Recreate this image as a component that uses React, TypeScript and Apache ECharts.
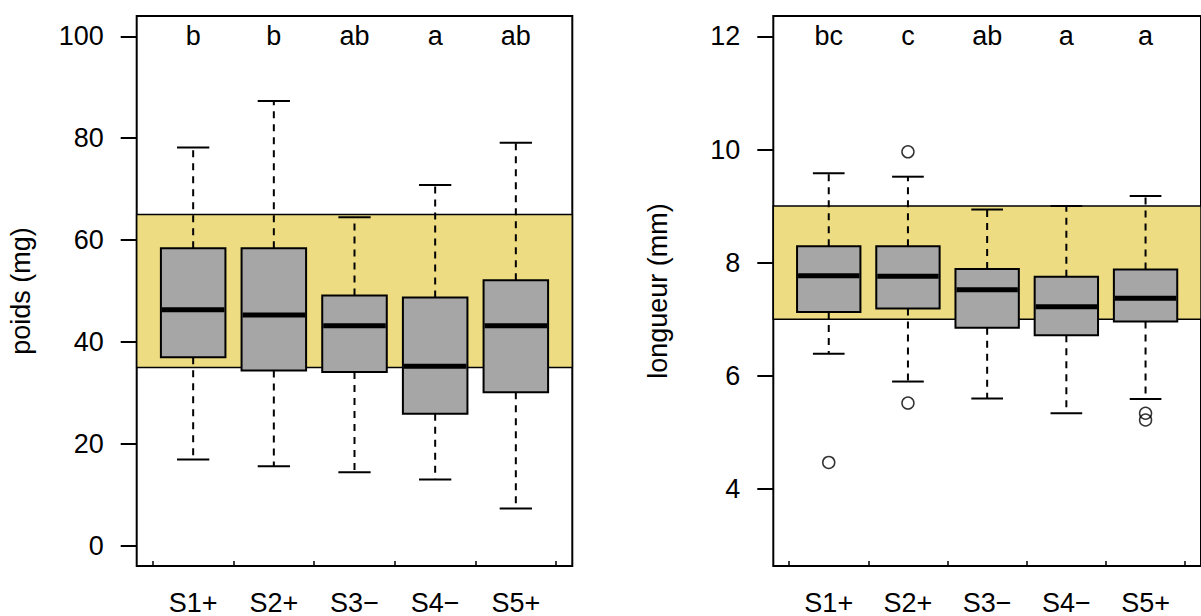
import React, { useEffect, useRef } from "react";
import * as echarts from "echarts";

// ---------- data ----------
const categories = ["S1+", "S2+", "S3−", "S4−", "S5+"];

// [lower whisker, Q1, median, Q3, upper whisker]
const poidsStats = [
  [16.9, 37.0, 46.3, 58.4, 78.2],
  [15.6, 34.4, 45.3, 58.4, 87.3],
  [14.4, 34.1, 43.2, 49.1, 64.5],
  [13.0, 25.9, 35.2, 48.7, 70.8],
  [7.3, 30.1, 43.2, 52.1, 79.1],
];
const poidsLetters = ["b", "b", "ab", "a", "ab"];
const poidsBand = [35, 65];
const poidsTicks = [0, 20, 40, 60, 80, 100];
const poidsRange = [-4, 104];
const poidsLetterY = 100;

const longueurStats = [
  [6.39, 7.13, 7.77, 8.29, 9.58],
  [5.9, 7.19, 7.76, 8.29, 9.52],
  [5.6, 6.85, 7.52, 7.89, 8.94],
  [5.34, 6.72, 7.22, 7.75, 9.0],
  [5.59, 6.96, 7.37, 7.88, 9.18],
];
const longueurOutlierCat = [1, 2, 2, 5, 5];
const longueurOutlierVal = [4.47, 9.96, 5.52, 5.34, 5.22];
const longueurLetters = ["bc", "c", "ab", "a", "a"];
const longueurBand = [7, 9];
const longueurTicks = [4, 6, 8, 10, 12];
const longueurRange = [2.64, 12.36];
const longueurLetterY = 12;

const xRange = [0.3, 5.7];
const xTickPos = [0.5, 1.5, 2.5, 3.5, 4.5, 5.5];
const xLabelPos = [1, 2, 3, 4, 5];

// ---------- style ----------
const FONT = "Liberation Sans, Arial, sans-serif";
const FS = 27;
const BOX_FILL = "#A6A6A6";
const BAND_FILL = "#EEDC82";

function makeYAxis(gridIndex: number, range: number[], ticks: number[], name: string) {
  return {
    type: "value",
    gridIndex,
    min: range[0],
    max: range[1],
    name,
    nameLocation: "middle",
    nameGap: 102,
    nameTextStyle: { fontFamily: FONT, fontSize: FS, color: "#000" },
    axisLine: { show: false, onZero: false },
    splitLine: { show: false },
    axisTick: {
      show: true,
      customValues: ticks,
      length: 16,
      lineStyle: { color: "#000", width: 2 },
    },
    axisLabel: {
      customValues: ticks,
      margin: 33,
      fontFamily: FONT,
      fontSize: FS,
      color: "#000",
    },
  };
}

function makeXAxis(gridIndex: number) {
  return {
    type: "value",
    gridIndex,
    position: "bottom",
    min: xRange[0],
    max: xRange[1],
    axisLine: { show: false, onZero: false },
    splitLine: { show: false },
    axisTick: {
      show: true,
      inside: true,
      length: 5,
      customValues: xTickPos,
      lineStyle: { color: "#000", width: 1.5 },
    },
    axisLabel: {
      customValues: xLabelPos,
      margin: 23,
      fontFamily: FONT,
      fontSize: FS,
      color: "#000",
      formatter: (v: number) => categories[Math.round(v) - 1] ?? "",
    },
  };
}

function bandSeries(idx: number, band: number[]) {
  return {
    type: "custom",
    xAxisIndex: idx,
    yAxisIndex: idx,
    z: 1,
    silent: true,
    data: [[3, band[0], band[1]]],
    encode: { x: 0, y: [1, 2] },
    renderItem: (_p: any, api: any) => {
      const a = api.coord([xRange[0], api.value(2)]);
      const b = api.coord([xRange[1], api.value(1)]);
      return {
        type: "rect",
        shape: { x: a[0], y: a[1], width: b[0] - a[0], height: b[1] - a[1] },
        style: { fill: BAND_FILL, stroke: "#000", lineWidth: 1.5 },
      };
    },
  };
}

function boxSeries(idx: number, stats: number[][]) {
  return {
    type: "custom",
    xAxisIndex: idx,
    yAxisIndex: idx,
    z: 2,
    silent: true,
    data: stats.map((s, i) => [i + 1, ...s]),
    encode: { x: 0, y: [1, 2, 3, 4, 5] },
    renderItem: (_p: any, api: any) => {
      const x = api.value(0);
      const lo = api.coord([x, api.value(1)]);
      const q1 = api.coord([x, api.value(2)]);
      const med = api.coord([x, api.value(3)]);
      const q3 = api.coord([x, api.value(4)]);
      const hi = api.coord([x, api.value(5)]);
      const w = api.size([0.8, 0])[0];
      const cx = lo[0];
      const dash = { stroke: "#000", lineWidth: 2, lineDash: [7, 6] };
      const solid = { stroke: "#000", lineWidth: 2 };
      return {
        type: "group",
        children: [
          { type: "line", shape: { x1: cx, y1: q3[1], x2: cx, y2: hi[1] }, style: dash },
          { type: "line", shape: { x1: cx, y1: q1[1], x2: cx, y2: lo[1] }, style: dash },
          { type: "line", shape: { x1: cx - w / 4, y1: hi[1], x2: cx + w / 4, y2: hi[1] }, style: solid },
          { type: "line", shape: { x1: cx - w / 4, y1: lo[1], x2: cx + w / 4, y2: lo[1] }, style: solid },
          {
            type: "rect",
            shape: { x: cx - w / 2, y: q3[1], width: w, height: q1[1] - q3[1] },
            style: { fill: BOX_FILL, stroke: "#000", lineWidth: 2 },
          },
          {
            type: "line",
            shape: { x1: cx - w / 2 + 1, y1: med[1], x2: cx + w / 2 - 1, y2: med[1] },
            style: { stroke: "#000", lineWidth: 5 },
          },
        ],
      };
    },
  };
}

function letterSeries(idx: number, letters: string[], y: number) {
  return {
    type: "custom",
    xAxisIndex: idx,
    yAxisIndex: idx,
    z: 4,
    silent: true,
    data: letters.map((_, i) => [i + 1, y]),
    encode: { x: 0, y: 1 },
    renderItem: (p: any, api: any) => {
      const pt = api.coord([api.value(0), api.value(1)]);
      return {
        type: "text",
        x: pt[0],
        y: pt[1],
        style: {
          text: letters[p.dataIndex],
          fontFamily: FONT,
          fontSize: FS,
          fill: "#000",
          align: "center",
          verticalAlign: "middle",
        },
      };
    },
  };
}

export default function App() {
  const ref = useRef<HTMLDivElement>(null);

  useEffect(() => {
    if (!ref.current) return;
    const chart = echarts.init(ref.current, null, { renderer: "svg" });
    const gridCommon = {
      show: true,
      borderColor: "#000",
      borderWidth: 2,
      backgroundColor: "transparent",
      top: 16,
      height: 554.7,
      containLabel: false,
    };
    chart.setOption({
      animation: false,
      backgroundColor: "#fff",
      textStyle: { fontFamily: FONT },
      grid: [
        { ...gridCommon, left: 136.7, width: 435.6 },
        { ...gridCommon, left: 773.3, width: 435.6 },
      ],
      xAxis: [makeXAxis(0), makeXAxis(1)],
      yAxis: [
        makeYAxis(0, poidsRange, poidsTicks, "poids (mg)"),
        makeYAxis(1, longueurRange, longueurTicks, "longueur (mm)"),
      ],
      series: [
        bandSeries(0, poidsBand),
        boxSeries(0, poidsStats),
        letterSeries(0, poidsLetters, poidsLetterY),
        bandSeries(1, longueurBand),
        boxSeries(1, longueurStats),
        {
          type: "scatter",
          xAxisIndex: 1,
          yAxisIndex: 1,
          z: 3,
          silent: true,
          symbol: "circle",
          symbolSize: 12,
          itemStyle: { color: "rgba(0,0,0,0)", borderColor: "#000", borderWidth: 1.5 },
          data: longueurOutlierCat.map((c, i) => [c, longueurOutlierVal[i]]),
        },
        letterSeries(1, longueurLetters, longueurLetterY),
      ],
    });
    return () => chart.dispose();
  }, []);

  return (
    <div
      ref={ref}
      style={{ position: "absolute", left: 0, top: 0, width: 1201, height: 616 }}
    />
  );
}
